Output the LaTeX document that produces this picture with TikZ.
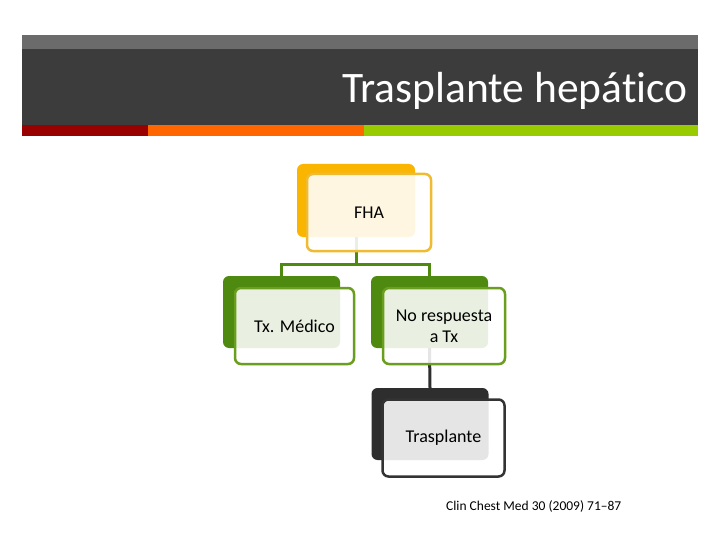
\documentclass[tikz,border=0pt]{standalone}
\usepackage{fontspec}
\setmainfont{Carlito}[Ligatures=NoCommon]
\definecolor{hdrtop}{HTML}{6B6B6B}
\definecolor{hdr}{HTML}{3C3C3C}
\definecolor{sred}{HTML}{990000}
\definecolor{sorange}{HTML}{FF6600}
\definecolor{sgreen}{HTML}{99CC00}
\definecolor{borange}{HTML}{F9B500}
\definecolor{forange}{HTML}{EEBB33}
\definecolor{bgreen}{HTML}{4E8A10}
\definecolor{fgreen}{HTML}{6A9E1F}
\definecolor{bdark}{HTML}{2E2E2E}
\definecolor{fdark}{HTML}{333333}
\tikzset{
  backbox/.style={rounded corners=6pt, inner sep=0pt, minimum width=117pt, minimum height=72pt},
  frontbox/.style={rounded corners=6pt, inner sep=0pt, line width=2.5pt, fill=white, fill opacity=0.88, text opacity=1, align=center, minimum width=121pt, minimum height=76pt, font=\fontsize{18}{21}\selectfont},
  conn/.style={line width=3pt}
}
\begin{document}
\begin{tikzpicture}[x=1pt,y=-1pt]
\useasboundingbox[fill=white] (0,0) rectangle (720,540);
% header
\fill[hdrtop] (22,35) rectangle (698,49);
\fill[hdr] (22,49) rectangle (698,125);
\fill[sred] (22,125) rectangle (148,136);
\fill[sorange] (148,125) rectangle (364,136);
\fill[sgreen] (364,125) rectangle (698,136);
\node[anchor=base east, text=white, font=\fontsize{43.5}{46}\selectfont, inner sep=0pt] (title) at (688,103) {Trasplante hepático};
% back boxes
\node[backbox, fill=borange, minimum width=118pt, minimum height=73pt] (fhab) at (356,200.5) {};
\node[backbox, fill=bgreen] (txb) at (281.5,312) {};
\node[backbox, fill=bgreen] (nob) at (429.5,312) {};
\node[backbox, fill=bdark] (trb) at (430,424) {};
% connectors
\draw[conn, draw=bgreen] (fhab.south) -- ++(0,27) coordinate (mid) -| (txb.north);
\draw[conn, draw=bgreen] (mid) -| (nob.north);
\draw[conn, draw=bdark] (nob.south) -- (trb.north);
% front boxes
\node[frontbox, draw=forange, minimum width=124pt, minimum height=77pt] (fha) at (369,212.5) {FHA};
\node[frontbox, draw=fgreen, minimum width=119pt] (tx) at (294.5,326) {Tx. Médico};
\node[frontbox, draw=fgreen, minimum width=122pt] (no) at (444,326) {No respuesta\\a Tx};
\node[frontbox, draw=fdark, minimum width=122pt, minimum height=77pt] (tr) at (443.5,438) {Trasplante};
% citation
\node[anchor=base west, inner sep=0pt, font=\fontsize{13.5}{15}\selectfont] (cite) at (446,510) {Clin Chest Med 30 (2009) 71–87};
\end{tikzpicture}
\end{document}
